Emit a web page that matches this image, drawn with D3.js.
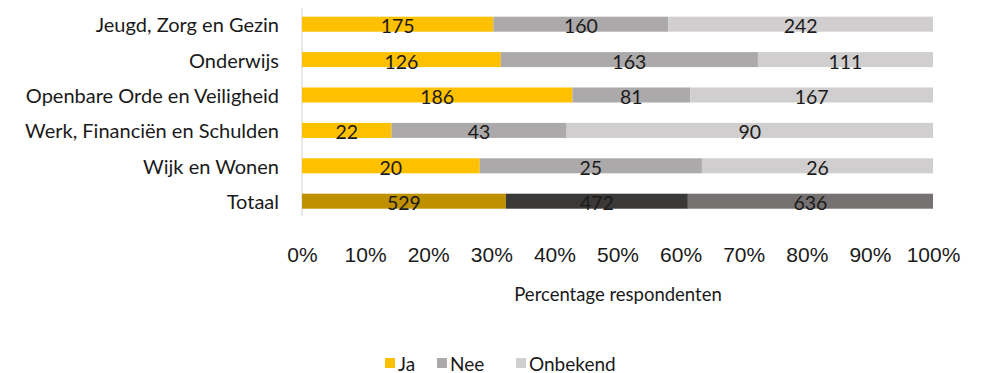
<!DOCTYPE html>
<html>
<head>
<meta charset="utf-8">
<script src="https://cdn.jsdelivr.net/npm/d3@7"></script>
<style>
  html, body { margin: 0; padding: 0; background: #fff; }
  svg { display: block; }
</style>
</head>
<body>
<div id="chart"></div>
<script>
const categories = ["Jeugd, Zorg en Gezin", "Onderwijs", "Openbare Orde en Veiligheid", "Werk, Financiën en Schulden", "Wijk en Wonen", "Totaal"];
const seriesNames = ["Ja", "Nee", "Onbekend"];
const ja = [175, 126, 186, 22, 20, 529];
const nee = [160, 163, 81, 43, 25, 472];
const onbekend = [242, 111, 167, 90, 26, 636];
const tickValues = [0, 0.1, 0.2, 0.3, 0.4, 0.5, 0.6, 0.7, 0.8, 0.9, 1.0];
const xTitle = "Percentage respondenten";

const colors = ["#FFC000", "#ABA9A9", "#D0CECE"];
const totalColors = ["#BF9000", "#3B3838", "#767171"];

const W = 982, H = 373;
const svg = d3.select("#chart").append("svg").attr("width", W).attr("height", H);

const x = d3.scaleLinear().domain([0, 1]).range([302, 933]);
const y = d3.scaleBand().domain(categories).range([6.5, 218.9]).paddingInner(0.576).paddingOuter(0.288);

const rows = categories.map((c, i) => ({cat: c, vals: [ja[i], nee[i], onbekend[i]]}));
const stackData = rows.map(r => {
  const tot = d3.sum(r.vals);
  let acc = 0;
  return r.vals.map((v, k) => {
    const s = {cat: r.cat, k, v, x0: acc / tot, x1: (acc + v) / tot};
    acc += v;
    return s;
  });
});

// vertical axis line
svg.append("line")
  .attr("x1", x(0)).attr("x2", x(0))
  .attr("y1", 8).attr("y2", 216)
  .attr("stroke", "#D9D9D9").attr("stroke-width", 1.2);

const g = svg.append("g");
stackData.forEach(segs => {
  segs.forEach(s => {
    const isTot = s.cat === "Totaal";
    g.append("rect")
      .attr("x", x(s.x0))
      .attr("y", y(s.cat))
      .attr("width", x(s.x1) - x(s.x0))
      .attr("height", y.bandwidth())
      .attr("fill", isTot ? totalColors[s.k] : colors[s.k]);
    g.append("text")
      .attr("x", (x(s.x0) + x(s.x1)) / 2)
      .attr("y", y(s.cat) + y.bandwidth() / 2 + 1.5)
      .attr("text-anchor", "middle")
      .attr("dominant-baseline", "central")
      .attr("font-family", "Lato, 'Open Sans', sans-serif")
      .attr("font-size", 19.5)
      .attr("fill", "#1a1a1a")
      .text(s.v);
  });
});

// category labels
svg.append("g").selectAll("text").data(categories).join("text")
  .attr("x", 279)
  .attr("y", d => y(d) + y.bandwidth() / 2)
  .attr("text-anchor", "end")
  .attr("dominant-baseline", "central")
  .attr("font-family", "Lato, 'Open Sans', sans-serif")
  .attr("font-size", 20)
  .attr("fill", "#1a1a1a")
  .text(d => d);

// x axis tick labels
const xAxis = d3.axisBottom(x).tickValues(tickValues).tickFormat(d3.format(".0%")).tickSize(0).tickPadding(0);
const ax = svg.append("g").attr("transform", "translate(0,254)").call(xAxis);
ax.select(".domain").remove();
ax.selectAll("text")
  .attr("y", 0).attr("dy", null)
  .attr("dominant-baseline", "central")
  .attr("font-family", "'Liberation Sans', Arial, sans-serif")
  .attr("font-size", 21)
  .attr("fill", "#1a1a1a");

// axis title
svg.append("text")
  .attr("x", 618).attr("y", 294)
  .attr("text-anchor", "middle")
  .attr("dominant-baseline", "central")
  .attr("font-family", "Lato, 'Open Sans', sans-serif")
  .attr("font-size", 18.5)
  .attr("fill", "#1a1a1a")
  .text(xTitle);

// legend
const legendX = [385, 437, 516];
const lg = svg.append("g");
seriesNames.forEach((n, i) => {
  lg.append("rect").attr("x", legendX[i]).attr("y", 358).attr("width", 10).attr("height", 10).attr("fill", colors[i]);
  lg.append("text")
    .attr("x", legendX[i] + 13).attr("y", 363)
    .attr("dominant-baseline", "central")
    .attr("font-family", "Lato, 'Open Sans', sans-serif")
    .attr("font-size", 19)
    .attr("fill", "#1a1a1a")
    .text(n);
});
</script>
</body>
</html>
